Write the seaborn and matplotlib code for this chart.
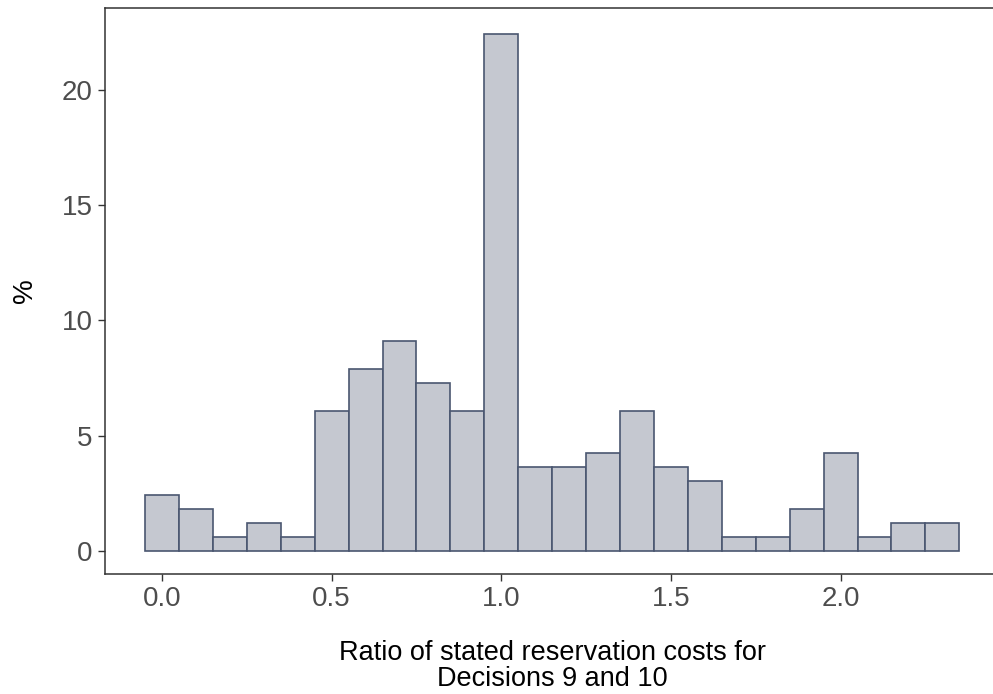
import numpy as np
import pandas as pd
import matplotlib
matplotlib.use("Agg")
import matplotlib.pyplot as plt
import seaborn as sns

# Data: bin centers (ratio) and percentage of subjects
bin_centers = [0.0, 0.1, 0.2, 0.3, 0.4, 0.5, 0.6, 0.7, 0.8, 0.9, 1.0, 1.1,
               1.2, 1.3, 1.4, 1.5, 1.6, 1.7, 1.8, 1.9, 2.0, 2.1, 2.2, 2.3]
counts = [4, 3, 1, 2, 1, 10, 13, 15, 12, 10, 37, 6,
          6, 7, 10, 6, 5, 1, 1, 3, 7, 1, 2, 2]
percent = [100 * c / sum(counts) for c in counts]
x_ticks = [0.0, 0.5, 1.0, 1.5, 2.0]
x_tick_labels = ["0.0", "0.5", "1.0", "1.5", "2.0"]
y_ticks = [0, 5, 10, 15, 20]
x_label = "Ratio of stated reservation costs for\nDecisions 9 and 10"
y_label = "%"

sns.set_theme(style="white")
plt.rcParams['font.family'] = ['Liberation Sans', 'DejaVu Sans']

df = pd.DataFrame({"ratio": bin_centers, "pct": percent})

fig = plt.figure(figsize=(9.93, 6.94), dpi=100)
ax = fig.add_axes([105 / 993, 1 - 574 / 694, (1000 - 105) / 993, (574 - 8) / 694])
sns.histplot(data=df, x="ratio", weights="pct", binwidth=0.1, binrange=(-0.05, 2.35),
             ax=ax, color="#C5C8D0", edgecolor="#4A5670", linewidth=1.2, alpha=1)

ax.set_xlim(-0.168, 2.47)
ax.set_ylim(-1.0, 23.56)
ax.set_xticks(x_ticks)
ax.set_xticklabels(x_tick_labels)
ax.set_yticks(y_ticks)
ax.tick_params(axis="both", which="both", direction="out", length=5, width=1,
               color="#333333", labelsize=20, labelcolor="#4D4D4D", pad=4,
               bottom=True, left=True)
for s in ["left", "bottom", "top"]:
    ax.spines[s].set_color("#333333")
    ax.spines[s].set_linewidth(1.1)
ax.spines["right"].set_visible(False)
ax.set_xlabel(x_label, fontsize=19.5, color="black", labelpad=20, linespacing=1.0)
ax.set_ylabel(y_label, fontsize=20, color="black", labelpad=17)
ax.grid(False)

fig.savefig("out.png", dpi=100)
